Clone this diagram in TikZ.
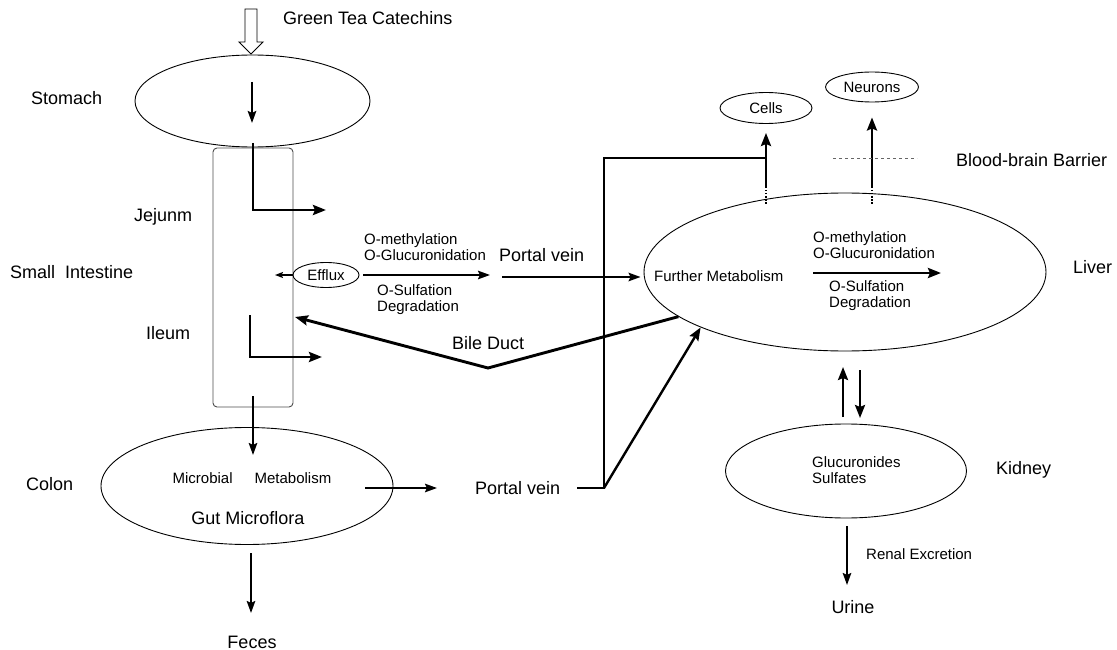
\documentclass[tikz,border=0pt]{standalone}
\usepackage{fontspec}
\setmainfont{Liberation Sans}
\usetikzlibrary{positioning,shapes.geometric,arrows.meta}

\begin{document}
\begin{tikzpicture}[
    x=1pt, y=-1pt,
    organ/.style={ellipse, draw, line width=0.9pt, inner sep=0pt, font=\fontsize{15}{16}\selectfont},
    big/.style={font=\fontsize{18}{20}\selectfont, inner sep=0pt, text height=12.5pt, text depth=0pt},
    small/.style={font=\fontsize{15}{16}\selectfont, inner sep=0pt, align=left},
    note/.style={font=\fontsize{15}{16}\selectfont, inner sep=0pt, text height=10.5pt, text depth=0pt},
    flow/.style={-{Stealth[length=13pt,width=10pt,inset=2pt]}, line width=2.9pt},
    thinflow/.style={-{Stealth[length=12pt,width=8.5pt,inset=2pt]}, line width=2pt},
    route/.style={line width=2.9pt},
    leak/.style={line width=1.6pt, dash pattern=on 1.5pt off 1.5pt},
]
\useasboundingbox (0,0) rectangle (1117,650);

\draw[line width=0.9pt] (245,9) -- (257,9) -- (257,42) -- (263,42) -- (251,54)
    -- (239,42) -- (245,42) -- cycle;

\node[organ, minimum width=235pt, minimum height=92pt] (stomach) at (252.5,101) {};
\node[draw=black!70, line width=0.9pt, rounded corners=4pt, minimum width=80pt,
      minimum height=259pt] (intestine) at (253,277.5) {};
\node[organ, minimum width=66pt, minimum height=25pt] (efflux) at (326,275) {Efflux};
\node[organ, minimum width=292pt, minimum height=117pt] (colon) at (247,486) {};
\node[organ, minimum width=402pt, minimum height=158pt] (liver) at (845,272) {};
\node[organ, minimum width=92pt, minimum height=31pt] (cells) at (766,108) {Cells};
\node[organ, minimum width=93pt, minimum height=30pt] (neurons) at (872,87) {Neurons};
\node[organ, minimum width=241pt, minimum height=94pt] (kidney) at (846,471) {};

\node[big, anchor=west] (tea) at (283,18) {Green Tea Catechins};
\node[big, anchor=west] (stomachlbl) at (31,98) {Stomach};
\node[big, anchor=west] (jejunum) at (134,215) {Jejunm};
\node[big, anchor=west] (smallint) at (10,272) {Small\ \ Intestine};
\node[big, anchor=west] (ileum) at (146,333) {Ileum};
\node[big, anchor=west] (colonlbl) at (26,484) {Colon};
\node[big] (feces) at (252,642) {Feces};

\node[small, anchor=west] (gutup) at (364,247) {O-methylation\\O-Glucuronidation};
\node[small, anchor=west] (gutdown) at (377,300) {O-Sulfation\\Degradation};
\node[big, anchor=west] (pvtop) at (499,255) {Portal vein};
\node[big, anchor=west] (bile) at (452,343) {Bile Duct};
\node[big, anchor=west] (pvbot) at (475,488) {Portal vein};

\node[note] (microbial) at (252,478) {Microbial\hspace{22pt}Metabolism};
\node[big] (gut) at (248,518) {Gut Microflora};

\node[note, anchor=west] (further) at (654,276) {Further Metabolism};
\node[small, anchor=west] (livup) at (813,245) {O-methylation\\O-Glucuronidation};
\node[small, anchor=west] (livdown) at (829,295.5) {O-Sulfation\\Degradation};
\node[big, anchor=west] (liverlbl) at (1073,267) {Liver};
\node[big, anchor=west] (bbb) at (956,160) {Blood-brain Barrier};

\node[small, anchor=west] (kidtxt) at (812,470.5) {Glucuronides\\Sulfates};
\node[big, anchor=west] (kidneylbl) at (996,468) {Kidney};
\node[note, anchor=west] (renal) at (866,554) {Renal Excretion};
\node[big] (urine) at (853,607) {Urine};

\coordinate (st1) at (252,82);
\coordinate (st2) at (252,123);
\coordinate (jej1) at (253,143);
\coordinate (jej2) at (326,210);
\coordinate (ile1) at (250,315);
\coordinate (ile2) at (322,357);
\coordinate (effend) at (275,275);
\coordinate (effout) at (490,275);
\coordinate (pv1) at (502,277);
\coordinate (bend) at (488,368);
\coordinate (bileend) at (295,317);
\coordinate (junc) at (604,488);
\coordinate (tee) at (766,158);
\coordinate (cellsup) at (766,187);
\coordinate (neurup) at (872,187);
\coordinate (lv1) at (813,273);
\coordinate (lv2) at (941,273);
\coordinate (up1) at (843,417);
\coordinate (up2) at (843,367);
\coordinate (dn1) at (860,370);
\coordinate (dn2) at (860,418);
\coordinate (ren1) at (847,526);
\coordinate (ren2) at (847,585);
\coordinate (in1) at (253,396);
\coordinate (in2) at (253,455);
\coordinate (co1) at (365,488);
\coordinate (co2) at (437,488);
\coordinate (fe1) at (251,553);
\coordinate (fe2) at (251,613);

\draw[thinflow] (st1) -- (st2);
\draw[flow] (jej1) |- (jej2);
\draw[flow] (ile1) |- (ile2);
\draw[-{Stealth[length=8pt,width=6pt,inset=1.5pt]}, line width=1.5pt] (efflux) -- (effend);
\draw[thinflow] ([xshift=4pt]efflux.east) -- (effout);
\draw[thinflow, shorten >=3pt] (pv1) -- (pv1 -| liver.west);
\draw[flow, line join=miter] (liver.195) -- (bend) -- (bileend);
\draw[thinflow] (in1) -- (in2);
\draw[thinflow] (co1) -- (co2);
\draw[thinflow] (fe1) -- (fe2);

\draw[route] ([xshift=17pt]pvbot.east) -- (junc) |- (tee);
\draw[flow, line width=2.4pt] (junc) -- (liver.201);
\draw[flow, shorten >=9pt] (cellsup) -- (cells.south);
\draw[flow, shorten >=15pt] (neurup) -- (neurons.south);
\draw[leak] (cellsup) -- ++(0,18);
\draw[leak] (neurup) -- ++(0,18);
\draw[dashed, black!60, line width=0.8pt] (833,158) -- (917,158);

\draw[flow] (lv1) -- (lv2);
\draw[flow, line width=2.4pt] (up1) -- (up2);
\draw[flow, line width=2.4pt] (dn1) -- (dn2);
\draw[thinflow] (ren1) -- (ren2);
\end{tikzpicture}
\end{document}
